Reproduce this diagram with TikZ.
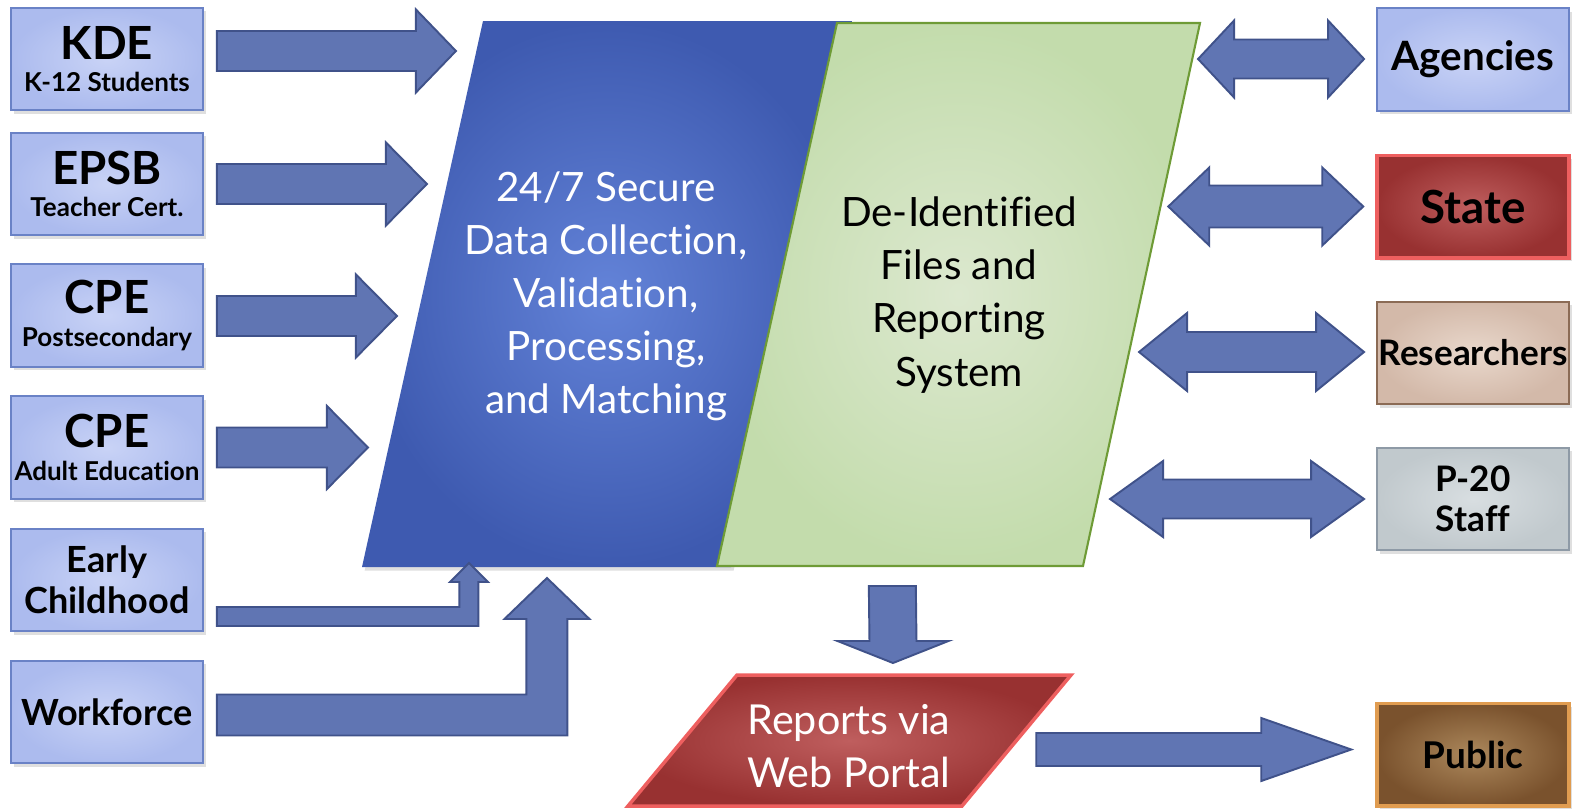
\documentclass[tikz,border=0pt]{standalone}
\usepackage{fontspec}
\setmainfont{Lato}[Ligatures=NoCommon]
\usetikzlibrary{calc,shadows}

\definecolor{srcin}{HTML}{C9D3F6}
\definecolor{srcout}{HTML}{ACBBEE}
\definecolor{srcedge}{HTML}{6A82C6}
\definecolor{arrowfill}{HTML}{6075B3}
\definecolor{arrowedge}{HTML}{40528A}
\definecolor{collin}{HTML}{6383D8}
\definecolor{collout}{HTML}{3E5AB0}
\definecolor{deidin}{HTML}{DCE8CF}
\definecolor{deidout}{HTML}{C3DCAC}
\definecolor{deidedge}{HTML}{6E9B36}
\definecolor{statein}{HTML}{BF5E5E}
\definecolor{stateout}{HTML}{983131}
\definecolor{stateedge}{HTML}{EE5F5F}
\definecolor{resin}{HTML}{E9D8CC}
\definecolor{resout}{HTML}{D3B9A9}
\definecolor{resedge}{HTML}{8B6B55}
\definecolor{staffin}{HTML}{D8DEE1}
\definecolor{staffout}{HTML}{C1C9CD}
\definecolor{staffedge}{HTML}{8E9AA6}
\definecolor{pubin}{HTML}{AC885C}
\definecolor{pubout}{HTML}{7A522D}
\definecolor{pubedge}{HTML}{E09C50}

% label fonts
\newcommand\bigname{\fontsize{26}{18.5}\selectfont\bfseries}
\newcommand\subname{\fontsize{14.8}{18.5}\selectfont\bfseries}
\newcommand\midname{\fontsize{20.5}{23.3}\selectfont\bfseries}
\newcommand\bodytext{\fontsize{23}{30.2}\selectfont}

\tikzset{
  arrowblk/.style={fill=arrowfill, draw=arrowedge, line width=1.1pt, line join=miter},
  shadowed/.style={drop shadow={shadow xshift=1.5pt, shadow yshift=-2pt, opacity=0.25}},
  boxbase/.style={minimum width=3.84cm, minimum height=2.05cm, align=center, inner sep=0pt, shadowed},
  srcbox/.style={boxbase, draw=srcedge, line width=1.1pt, inner color=srcin, outer color=srcout, font=\subname},
  statebox/.style={boxbase, draw=stateedge, line width=2pt, inner color=statein, outer color=stateout},
  resbox/.style={boxbase, draw=resedge, line width=1.1pt, inner color=resin, outer color=resout},
  staffbox/.style={boxbase, draw=staffedge, line width=1.1pt, inner color=staffin, outer color=staffout},
  pubbox/.style={boxbase, draw=pubedge, line width=2pt, inner color=pubin, outer color=pubout}
}

% block arrows, all sizes in px
\newcommand\blockR[5]{% tail, tip, half shaft, half head, head length
  \draw[arrowblk] ($(#1)+(0,#3)$) -- ($(#2)+(-#5,#3)$) -- ($(#2)+(-#5,#4)$) -- (#2)
    -- ($(#2)+(-#5,-#4)$) -- ($(#2)+(-#5,-#3)$) -- ($(#1)+(0,-#3)$) -- cycle;}
\newcommand\blockLR[5]{% left tip, right tip, half shaft, half head, head length
  \draw[arrowblk] (#1) -- ($(#1)+(#5,-#4)$) -- ($(#1)+(#5,-#3)$) -- ($(#2)+(-#5,-#3)$)
    -- ($(#2)+(-#5,-#4)$) -- (#2) -- ($(#2)+(-#5,#4)$) -- ($(#2)+(-#5,#3)$)
    -- ($(#1)+(#5,#3)$) -- ($(#1)+(#5,#4)$) -- cycle;}
\newcommand\blockUp[5]{% tail, tip, half shaft, half head, head length
  \draw[arrowblk] ($(#1)+(0,#3)$) -- ($(#1 -| #2)+(#3,#3)$) -- ($(#2)+(#3,#5)$) -- ($(#2)+(#4,#5)$)
    -- (#2) -- ($(#2)+(-#4,#5)$) -- ($(#2)+(-#3,#5)$) -- ($(#1 -| #2)+(-#3,-#3)$)
    -- ($(#1)+(0,-#3)$) -- cycle;}
\newcommand\blockDown[5]{% tail, tip, half shaft, half head, head length
  \draw[arrowblk] ($(#1)+(-#3,0)$) -- ($(#2)+(-#3,-#5)$) -- ($(#2)+(-#4,-#5)$) -- (#2)
    -- ($(#2)+(#4,-#5)$) -- ($(#2)+(#3,-#5)$) -- ($(#1)+(#3,0)$) -- cycle;}

\begin{document}
\begin{tikzpicture}[x=0.02cm, y=-0.02cm]
\useasboundingbox (0,0) rectangle (1581,808);

% collection and de-identified blocks
\coordinate (ctl) at (483,21);
\coordinate (ctr) at (852,21);
\coordinate (cbr) at (731,567);
\coordinate (cbl) at (362,567);
\coordinate (dtl) at (837,23);
\coordinate (dtr) at (1200,23);
\coordinate (dbr) at (1083,566);
\coordinate (dbl) at (717,566);
\shade[inner color=collin, outer color=collout, shadowed] (ctl) -- (ctr) -- (cbr) -- (cbl) -- cycle;
\shadedraw[draw=deidedge, line width=1.2pt, inner color=deidin, outer color=deidout] (dtl) -- (dtr) -- (dbr) -- (dbl) -- cycle;
\node[white, align=center, font=\bodytext] (collect) at (606,296)
  {24/7 Secure\\Data Collection,\\Validation,\\Processing,\\and Matching};
\node[black, align=center, font=\bodytext] (deident) at (959,295)
  {De-Identified\\Files and\\Reporting\\System};

% reports block
\coordinate (rtl) at (737,675);
\coordinate (rtr) at (1071,675);
\coordinate (rbr) at (962,806);
\coordinate (rbl) at (628,806);
\shadedraw[draw=stateedge, line width=2pt, inner color=statein, outer color=stateout] (rtl) -- (rtr) -- (rbr) -- (rbl) -- cycle;
\node[white, align=center, font=\fontsize{23.5}{30.2}\selectfont] (reports) at (849,746)
  {Reports via\\Web Portal};

% sources
\node[srcbox] (kde) at (107,59) {\bigname KDE\\\subname K-12 Students};
\node[srcbox] (epsb) at (107,184) {\bigname EPSB\\\subname Teacher Cert.};
\node[srcbox] (cpe) at (107,315.5) {\bigname CPE\\\subname Postsecondary};
\node[srcbox] (adult) at (107,447.5) {\bigname CPE\\\subname Adult Education};
\node[srcbox, font=\midname] (early) at (107,580) {Early\\Childhood};
\node[srcbox, font=\midname] (work) at (107,712) {Workforce};

% users
\node[srcbox, font=\fontsize{23}{24}\selectfont\bfseries] (agency) at (1473,59.5) {Agencies};
\node[statebox, font=\fontsize{26}{24}\selectfont\bfseries] (state) at (1473,206.5) {State};
\node[resbox, font=\fontsize{20}{22}\selectfont\bfseries] (research) at (1473,353) {Researchers};
\node[staffbox, font=\fontsize{20}{22.5}\selectfont\bfseries] (staff) at (1473,499) {P-20\\Staff};
\node[pubbox, font=\fontsize{21}{22}\selectfont\bfseries] (public) at (1473,754.5) {Public};

% arrow ends
\coordinate (kde-out) at ($(kde.east)+(13,-8)$);
\coordinate (kde-in) at ($(kde.east)+(252,-8)$);
\coordinate (epsb-out) at ($(epsb.east)+(13,0)$);
\coordinate (epsb-in) at ($(epsb.east)+(223,0)$);
\coordinate (cpe-out) at ($(cpe.east)+(13,0.5)$);
\coordinate (cpe-in) at ($(cpe.east)+(193,0.5)$);
\coordinate (adult-out) at ($(adult.east)+(13,0)$);
\coordinate (adult-in) at ($(adult.east)+(164,0)$);
\coordinate (early-out) at ($(early.east)+(13,36.5)$);
\coordinate (early-in) at ($(early.east)+(265,-17)$);
\coordinate (work-out) at ($(work.east)+(13,3)$);
\coordinate (work-in) at ($(work.east)+(343,-134)$);
\coordinate (agency-l) at ($(agency.west)+(-178,-0.5)$);
\coordinate (agency-r) at ($(agency.west)+(-12,-0.5)$);
\coordinate (state-l) at ($(state.west)+(-207,0)$);
\coordinate (state-r) at ($(state.west)+(-12,0)$);
\coordinate (research-l) at ($(research.west)+(-237,-1)$);
\coordinate (research-r) at ($(research.west)+(-12,-1)$);
\coordinate (staff-l) at ($(staff.west)+(-266,0)$);
\coordinate (staff-r) at ($(staff.west)+(-12,0)$);
\coordinate (down-out) at ($(dbl)!0.479!(dbr)+(0,20)$);
\coordinate (down-in) at ($(rtl)!0.467!(rtr)+(0,-12)$);
\coordinate (public-out) at ($(public.west)+(-339,-5)$);
\coordinate (public-in) at ($(public.west)+(-24,-5)$);

% arrows
\blockR{kde-out}{kde-in}{20}{41.5}{40}
\blockR{epsb-out}{epsb-in}{20}{41.5}{41}
\blockR{cpe-out}{cpe-in}{20}{41.5}{41}
\blockR{adult-out}{adult-in}{20}{41.5}{41}
\blockUp{early-out}{early-in}{9.5}{19}{19}
\blockUp{work-out}{work-in}{20.5}{42.5}{41}
\blockLR{agency-l}{agency-r}{19.5}{38.5}{36}
\blockLR{state-l}{state-r}{21}{39}{41}
\blockLR{research-l}{research-r}{20}{39}{48}
\blockLR{staff-l}{staff-r}{19.5}{38}{53}
\blockDown{down-out}{down-in}{23.5}{55.5}{22}
\blockR{public-out}{public-in}{16.5}{31.5}{90}
\end{tikzpicture}
\end{document}
